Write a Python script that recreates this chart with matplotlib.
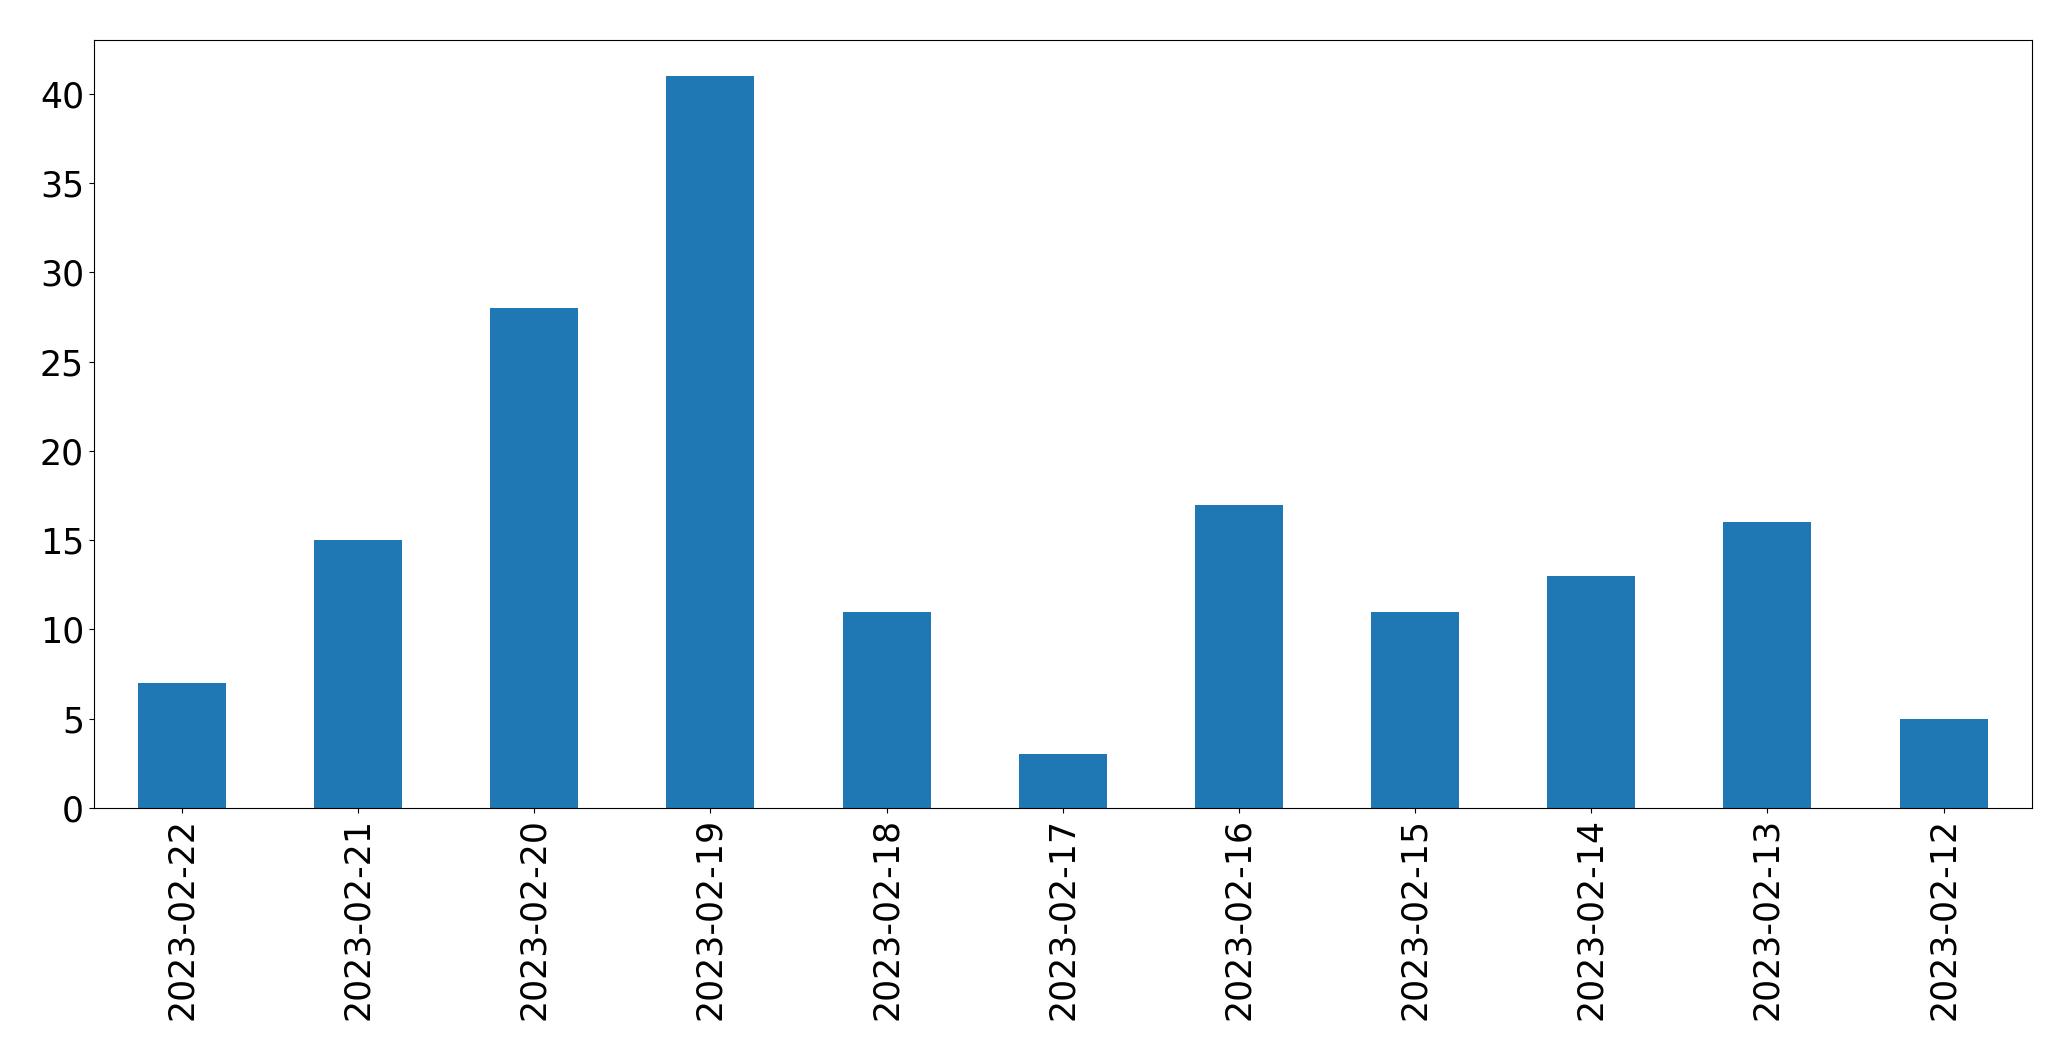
import matplotlib
matplotlib.use("Agg")
import matplotlib.pyplot as plt

dates = ["2023-02-22", "2023-02-21", "2023-02-20", "2023-02-19", "2023-02-18",
         "2023-02-17", "2023-02-16", "2023-02-15", "2023-02-14", "2023-02-13", "2023-02-12"]
counts = [7, 15, 28, 41, 11, 3, 17, 11, 13, 16, 5]

fig = plt.figure(figsize=(20.71, 10.61), dpi=100)
ax = fig.add_axes([0.0453, 0.2385, 0.9357, 0.7242])
x = range(len(dates))
ax.bar(x, counts, width=0.5, color="#1f77b4")
ax.set_xlim(-0.5, len(dates) - 0.5)
ax.set_xticks(list(x))
ax.set_xticklabels(dates, rotation=90, fontsize=25)
ax.tick_params(axis="y", labelsize=25)
ax.set_ylim(0, max(counts) * 1.05)
fig.savefig("out.png", dpi=100)
